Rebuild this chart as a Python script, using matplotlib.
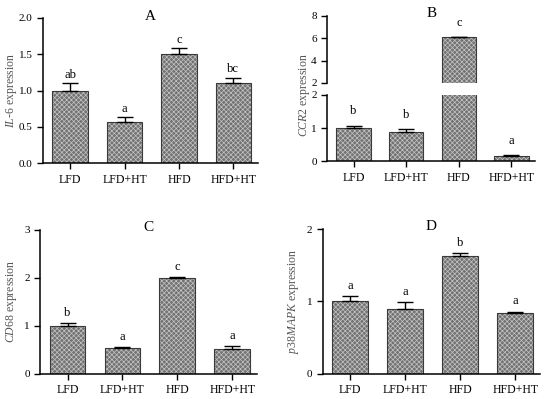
import numpy as np
import matplotlib
matplotlib.use("Agg")
import matplotlib.pyplot as plt

plt.rcParams['font.family'] = 'Liberation Serif'
plt.rcParams['mathtext.fontset'] = 'custom'
plt.rcParams['mathtext.it'] = 'Liberation Serif:italic'
plt.rcParams['mathtext.rm'] = 'Liberation Serif'
plt.rcParams['hatch.linewidth'] = 0.5

groups = ["LFD", "LFD+HT", "HFD", "HFD+HT"]

il6 = [1.0, 0.57, 1.5, 1.1]
il6_err = [0.10, 0.06, 0.08, 0.07]
il6_sig = ["ab", "a", "c", "bc"]

ccr2 = [1.0, 0.88, 6.1, 0.17]
ccr2_err = [0.07, 0.08, 0.02, 0.02]
ccr2_sig = ["b", "b", "c", "a"]

cd68 = [1.0, 0.54, 2.0, 0.52]
cd68_err = [0.06, 0.02, 0.01, 0.05]
cd68_sig = ["b", "a", "c", "a"]

p38 = [1.0, 0.9, 1.63, 0.84]
p38_err = [0.07, 0.09, 0.04, 0.02]
p38_sig = ["a", "a", "b", "a"]

x = np.arange(len(groups))
fig = plt.figure(figsize=(5.5, 3.99), dpi=100)


def style(ax, xlabels=True):
    for s in ["top", "right"]:
        ax.spines[s].set_visible(False)
    ax.spines["left"].set_linewidth(1.1)
    ax.spines["bottom"].set_linewidth(1.1)
    ax.tick_params(direction="out", length=4, width=1.0, labelsize=8)
    ax.set_xlim(-0.5, 3.45)
    if xlabels:
        ax.set_xticks(x)
        ax.set_xticklabels(groups, fontsize=8.5)


def bars(ax, vals, errs):
    # fill with a fine light cross-hatch, then a dark outline on top
    ax.bar(x, vals, width=0.65, color="#727272", edgecolor="#c4c4c4",
           hatch="xxxxxxx", linewidth=0, zorder=2)
    ax.bar(x, vals, width=0.65, fill=False, edgecolor="#3a3a3a",
           linewidth=0.8, zorder=2)
    ax.errorbar(x, vals, yerr=[np.zeros(len(vals)), errs], fmt="none",
                ecolor="black", elinewidth=1.0, capsize=6, capthick=1.0, zorder=3)


def letters(ax, vals, errs, sig, off=2, ymax=None):
    for xi, v, e, s in zip(x, vals, errs, sig):
        if ymax is not None and v + e > ymax:
            continue
        ax.annotate(s, (xi, v + e), xytext=(0, off), textcoords="offset points",
                    ha="center", va="bottom", fontsize=9)


def panel_title(ax, t, y=1.0):
    ax.text(0.5, y, t, transform=ax.transAxes, ha="center", va="center", fontsize=11)


# A
axA = fig.add_axes([0.078, 0.591, 0.391, 0.364])
bars(axA, il6, il6_err)
letters(axA, il6, il6_err, il6_sig)
axA.set_ylim(0, 2.0)
axA.set_yticks(np.arange(0, 2.01, 0.5))
axA.set_yticklabels([f"{v:.1f}" for v in np.arange(0, 2.01, 0.5)])
style(axA)
axA.set_ylabel(r"$IL$-$6$ expression", fontsize=8.5, color="#555555", labelpad=0)
panel_title(axA, "A", 1.01)

# B (broken axis)
axBu = fig.add_axes([0.595, 0.792, 0.378, 0.168])
axBl = fig.add_axes([0.595, 0.596, 0.378, 0.166])
bars(axBu, ccr2, ccr2_err)
bars(axBl, ccr2, ccr2_err)
axBu.set_ylim(2, 8)
axBu.set_yticks([2, 4, 6, 8])
axBl.set_ylim(0, 2)
axBl.set_yticks([0, 1, 2])
letters(axBu, [v if v > 2 else np.nan for v in ccr2], ccr2_err, ccr2_sig, off=6, ymax=8)
letters(axBl, ccr2, ccr2_err, ccr2_sig, off=6, ymax=2)
style(axBu, xlabels=False)
style(axBl)
axBu.spines["bottom"].set_visible(False)
axBu.set_xticks([])
fig.text(0.553, 0.762, r"$CCR2$ expression", rotation=90, ha="center", va="center",
         fontsize=8.5, color="#555555")
panel_title(axBu, "B", 1.03)

# C
axC = fig.add_axes([0.073, 0.063, 0.394, 0.361])
bars(axC, cd68, cd68_err)
letters(axC, cd68, cd68_err, cd68_sig, off=3)
axC.set_ylim(0, 3)
axC.set_yticks([0, 1, 2, 3])
style(axC)
axC.set_ylabel(r"$CD68$ expression", fontsize=8.5, color="#555555", labelpad=4)
panel_title(axC, "C", 1.015)

# D
axD = fig.add_axes([0.587, 0.063, 0.395, 0.363])
bars(axD, p38, p38_err)
letters(axD, p38, p38_err, p38_sig, off=3)
axD.set_ylim(0, 2)
axD.set_yticks([0, 1, 2])
style(axD)
axD.set_ylabel(r"$p38MAPK$ expression", fontsize=8.5, color="#555555", labelpad=4)
panel_title(axD, "D", 1.015)

fig.savefig("out.png", dpi=100)
